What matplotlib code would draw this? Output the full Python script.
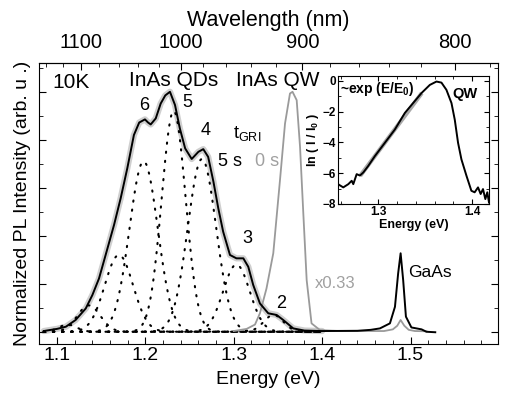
import numpy as np
import matplotlib
matplotlib.use('Agg')
import matplotlib.pyplot as plt
from matplotlib.ticker import MultipleLocator, FixedLocator

plt.rcParams['font.family'] = ['Liberation Sans', 'DejaVu Sans']
plt.rcParams['mathtext.fontset'] = 'custom'
plt.rcParams['mathtext.rm'] = 'Liberation Sans'
plt.rcParams['mathtext.bf'] = 'Liberation Sans:bold'

# ---- measured PL, t_GRI = 5 s (black) ----
e_qd = [1.085, 1.100, 1.110, 1.121, 1.1325, 1.140, 1.1475, 1.155, 1.1645, 1.172,
        1.1795, 1.187, 1.193, 1.1995, 1.203, 1.206, 1.2117, 1.2173, 1.2225, 1.2278,
        1.2335, 1.239, 1.245, 1.2524, 1.260, 1.2655, 1.271, 1.277, 1.2825, 1.288,
        1.2957, 1.303, 1.3108, 1.3164, 1.322, 1.3296, 1.339, 1.3485, 1.356, 1.3673,
        1.380, 1.400, 1.440, 1.455, 1.4654, 1.4767, 1.4824, 1.486, 1.4888, 1.4917,
        1.4948, 1.501, 1.5125, 1.518, 1.528]
i_qd = [0.003, 0.012, 0.021, 0.049, 0.097, 0.153, 0.222, 0.320, 0.445, 0.556,
        0.681, 0.820, 0.872, 0.885, 0.872, 0.864, 0.889, 0.951, 0.985, 1.000,
        0.945, 0.847, 0.764, 0.720, 0.750, 0.761, 0.729, 0.625, 0.514, 0.417,
        0.320, 0.306, 0.306, 0.271, 0.195, 0.118, 0.077, 0.070, 0.049, 0.014,
        0.005, 0.003, 0.004, 0.008, 0.014, 0.035, 0.104, 0.243, 0.327, 0.215,
        0.063, 0.018, 0.010, 0.000, -0.002]

# ---- measured PL, t_GRI = 0 s (gray, x0.33) ----
e_qw = [1.300, 1.3146, 1.324, 1.3296, 1.337, 1.3447, 1.3523, 1.358, 1.3636, 1.3665,
        1.3712, 1.375, 1.3787, 1.3825, 1.388, 1.3975, 1.420, 1.470, 1.480, 1.485,
        1.4888, 1.493, 1.498, 1.505, 1.518]
i_qw = [0.003, 0.012, 0.030, 0.077, 0.180, 0.327, 0.632, 0.868, 0.993, 1.000,
        0.965, 0.770, 0.493, 0.215, 0.035, 0.007, 0.003, 0.003, 0.010, 0.025,
        0.049, 0.025, 0.008, 0.003, 0.002]

# ---- gaussian components of the QD fit ----
g_center = [1.112, 1.136, 1.170, 1.198, 1.232, 1.264, 1.303, 1.345]
g_amp    = [0.03, 0.11, 0.32, 0.71, 0.92, 0.72, 0.28, 0.07]
g_sigma  = [0.010, 0.013, 0.016, 0.016, 0.0135, 0.016, 0.015, 0.011]

# ---- inset: ln(I/I0) of QW ----
e_ln = [1.2556, 1.257, 1.2626, 1.268, 1.2716, 1.2733, 1.2769, 1.2804, 1.284, 1.2892,
        1.2964, 1.307, 1.3176, 1.3283, 1.346, 1.3549, 1.362, 1.3673, 1.3726, 1.378,
        1.3815, 1.385, 1.3886, 1.394, 1.3992, 1.4027, 1.4063, 1.4091, 1.4116, 1.4141,
        1.4162, 1.418]
ln_i = [-7.79, -6.71, -6.92, -6.71, -6.49, -6.71, -6.06, -6.15, -5.95, -5.53,
        -4.88, -4.02, -3.16, -2.08, -0.79, -0.26, -0.04, -0.11, -0.58, -1.44,
        -2.52, -4.02, -5.10, -6.17, -7.14, -7.24, -6.92, -7.35, -7.03, -7.68,
        -7.24, -7.90]
e_fit  = [1.282, 1.345]
ln_fit = [-6.06, -0.90]


def e2l(e):
    e = np.asarray(e, dtype=float)
    with np.errstate(divide='ignore'):
        return 1239.84 / e


fig = plt.figure(figsize=(5.17, 3.93), dpi=100)
W, H = 517, 393
ax = fig.add_axes([39 / W, 1 - 344 / H, (498 - 39) / W, (344 - 63) / H])

# fit envelope (thick light gray) under the black data
e_qd_a = np.array(e_qd)
mask = e_qd_a <= 1.40
ax.plot(e_qd_a[mask], np.array(i_qd)[mask], color='#cfcfcf', lw=4.5,
        solid_capstyle='round', zorder=1)

xg = np.linspace(1.085, 1.40, 400)
for c, a, s in zip(g_center, g_amp, g_sigma):
    ax.plot(xg, a * np.exp(-(xg - c) ** 2 / (2 * s ** 2)), color='black',
            lw=1.5, ls=(0, (0.6, 3.8)), dash_capstyle='round', zorder=2)

ax.plot(e_qw, i_qw, color='#9a9a9a', lw=1.3, zorder=3)
ax.plot(e_qd, i_qd, color='black', lw=1.4, zorder=4)

ax.set_xlim(1.0796, 1.599)
ax.set_ylim(-0.051, 1.12)
ax.xaxis.set_major_locator(MultipleLocator(0.1))
ax.xaxis.set_minor_locator(MultipleLocator(0.02))
ax.yaxis.set_major_locator(MultipleLocator(0.2))
ax.yaxis.set_minor_locator(MultipleLocator(0.1))
ax.set_yticklabels([])
ax.tick_params(which='both', direction='in', top=False, right=True,
               labelsize=14, pad=2)
ax.tick_params(which='major', length=5)
ax.tick_params(which='minor', length=3)
ax.set_xlabel('Energy (eV)', fontsize=14, labelpad=5)
ax.set_ylabel('Normalized PL Intensity (arb. u .)', fontsize=14, labelpad=4)

sec = ax.secondary_xaxis('top', functions=(e2l, e2l))
sec.xaxis.set_major_locator(FixedLocator([1100, 1000, 900, 800]))
sec.xaxis.set_minor_locator(FixedLocator(np.arange(780, 1141, 20)))
sec.tick_params(which='both', direction='in', labelsize=14.5, pad=8)
sec.tick_params(which='major', length=5)
sec.tick_params(which='minor', length=3)
sec.set_xlabel('Wavelength (nm)', fontsize=15.5, labelpad=5)

# annotations (pixel positions converted to data coords)
def px(x, y):
    return (1.1 + (x - 57) / 884, (331.7 - y) / 240)

ax.text(*px(52, 82), '10K', fontsize=15, va='center', ha='left')
ax.text(*px(174, 80), 'InAs QDs', fontsize=15, va='center', ha='center')
ax.text(*px(278, 80), 'InAs QW', fontsize=15, va='center', ha='center')
for lab, (x, y) in zip(['6', '5', '4', '3', '2'],
                       [(144, 105), (187, 102), (206, 130), (247, 238), (281, 303)]):
    ax.text(*px(x, y), lab, fontsize=13, va='center', ha='center')
ax.text(*px(233, 133), r'$\mathregular{t_{GRI}}$', fontsize=13, va='center', ha='left')
ax.text(*px(230, 161), '5 s', fontsize=13, va='center', ha='center')
ax.text(*px(267, 161), '0 s', fontsize=13, va='center', ha='center', color='#a0a0a0')
ax.text(*px(335, 283), 'x0.33', fontsize=12, va='center', ha='center', color='#a0a0a0')
ax.text(*px(430, 272), 'GaAs', fontsize=12.5, va='center', ha='center')

# ---- inset ----
ins = fig.add_axes([338 / W, 1 - 204 / H, (489 - 338) / W, (204 - 76) / H])
ins.plot(e_fit, ln_fit, color='#a8a8a8', lw=3, zorder=1)
ins.plot(e_ln, ln_i, color='black', lw=1.4, zorder=2)
ins.set_xlim(1.257, 1.418)
ins.set_ylim(-8.0, 0.32)
ins.xaxis.set_major_locator(MultipleLocator(0.1))
ins.xaxis.set_minor_locator(MultipleLocator(0.02))
ins.yaxis.set_major_locator(MultipleLocator(2))
ins.yaxis.set_minor_locator(MultipleLocator(1))
ins.tick_params(which='both', direction='in', top=True, right=True,
                labelsize=8.5, pad=1.5)
ins.tick_params(which='major', length=3.5)
ins.tick_params(which='minor', length=2)
for lab in ins.get_xticklabels() + ins.get_yticklabels():
    lab.set_fontweight('bold')
ins.set_xlabel('Energy (eV)', fontsize=9, fontweight='bold', labelpad=1)
ins.set_ylabel(r'ln ( I / I$_\mathbf{0}$ )', fontsize=9, fontweight='bold', labelpad=1)
ins.text(0.015, 0.965, r'~exp (E/E$_\mathbf{0}$)', transform=ins.transAxes,
         fontsize=10, fontweight='bold', va='top', ha='left')
ins.text(0.76, 0.86, 'QW', transform=ins.transAxes, fontsize=10.5,
         fontweight='bold', va='center', ha='left')

fig.savefig('out.png', dpi=100)
